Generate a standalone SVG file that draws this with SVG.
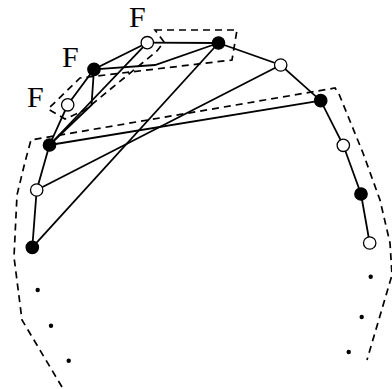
<svg xmlns="http://www.w3.org/2000/svg" width="392" height="389" viewBox="0 0 392 389">
<style>
.e{fill:none;stroke:#000;stroke-width:1.8}
.d{fill:none;stroke:#000;stroke-width:1.7;stroke-dasharray:7 5}
.w{fill:#fff;stroke:#000;stroke-width:1.3}
.b{fill:#000;stroke:#000;stroke-width:1.3}
.dot{fill:#000}
.lbl{font-family:"Liberation Serif","Times New Roman",serif;font-size:30px;fill:#000}
</style>
<rect width="392" height="389" fill="#fff"/>
<g id="outlines">
<polyline class="d" points="62,387 22,320 14,257 17,195 25,162 31,140 335,88 339,94 363,153 380,200 390,243 392,275 367,360"/>
<polygon class="d" points="155,30 237,30 232,60 80,78 48,109 65,119 85,110 157,51 164,42"/>
</g>
<g id="connectors">
<line class="e" x1="147.3" y1="42.7" x2="218.5" y2="43"/>
<polyline class="e" points="218.5,43 280.7,65 320.7,100.7 343.3,145.3 361,194 369.7,243"/>
<polyline class="e" points="147.3,42.7 94,69.3 67.7,104.8 49.5,145 36.7,190 32.3,247.3"/>
<polyline class="e" points="94,69.3 155,65 218.5,43"/>
<polyline class="e" points="94,69.3 91.5,105 49.5,145"/>
<line class="e" x1="147.3" y1="42.7" x2="49.5" y2="145"/>
<line class="e" x1="218.5" y1="43" x2="32.3" y2="247.3"/>
<line class="e" x1="280.7" y1="65" x2="36.7" y2="190"/>
<line class="e" x1="320.7" y1="100.7" x2="49.5" y2="145"/>
</g>
<g id="n1"><circle class="w" cx="147.3" cy="42.7" r="6.2"/><text class="lbl" x="129" y="26.5">F</text></g>
<g id="n2"><circle class="b" cx="218.5" cy="43" r="6.2"/></g>
<g id="n3"><circle class="b" cx="94" cy="69.3" r="6.2"/><text class="lbl" x="62" y="67">F</text></g>
<g id="n4"><circle class="w" cx="67.7" cy="104.8" r="6.2"/><text class="lbl" x="27" y="106.5">F</text></g>
<g id="n5"><circle class="b" cx="49.5" cy="145" r="6.2"/></g>
<g id="n6"><circle class="w" cx="36.7" cy="190" r="6.2"/></g>
<g id="n7"><circle class="b" cx="32.3" cy="247.3" r="6.2"/></g>
<g id="n8"><circle class="w" cx="280.7" cy="65" r="6.2"/></g>
<g id="n9"><circle class="b" cx="320.7" cy="100.7" r="6.2"/></g>
<g id="n10"><circle class="w" cx="343.3" cy="145.3" r="6.2"/></g>
<g id="n11"><circle class="b" cx="361" cy="194" r="6.2"/></g>
<g id="n12"><circle class="w" cx="369.7" cy="243" r="6.2"/></g>
<g id="ellipsis">
<circle class="dot" cx="37.7" cy="290" r="2.2"/>
<circle class="dot" cx="51" cy="325.7" r="2.2"/>
<circle class="dot" cx="68.7" cy="360.7" r="2.2"/>
<circle class="dot" cx="370.7" cy="276.7" r="2.2"/>
<circle class="dot" cx="361.7" cy="317" r="2.2"/>
<circle class="dot" cx="348.7" cy="352" r="2.2"/>
</g>
</svg>
